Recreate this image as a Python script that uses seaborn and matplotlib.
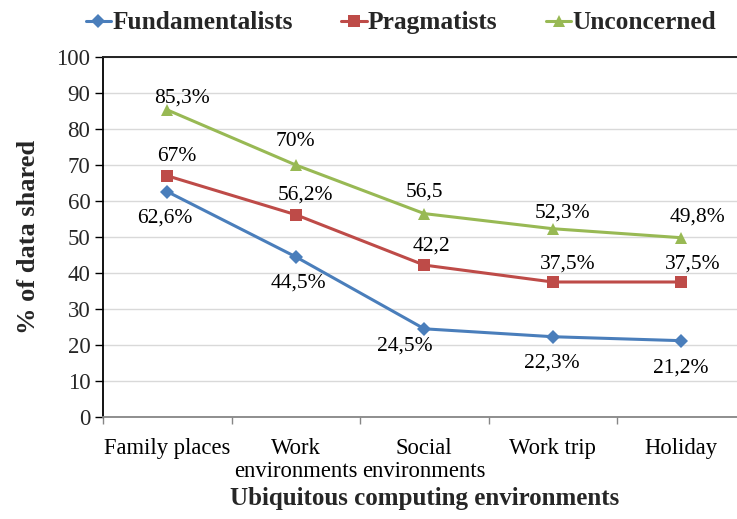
import matplotlib
matplotlib.use("Agg")
import matplotlib.pyplot as plt
import seaborn as sns
import pandas as pd
import numpy as np
from matplotlib.lines import Line2D

categories = ["Family places", "Work\nenvironments", "Social\nenvironments", "Work trip", "Holiday"]
fundamentalists = [62.6, 44.5, 24.5, 22.3, 21.2]
pragmatists = [67.0, 56.2, 42.2, 37.5, 37.5]
unconcerned = [85.3, 70.0, 56.5, 52.3, 49.8]
fund_labels = ["62,6%", "44,5%", "24,5%", "22,3%", "21,2%"]
prag_labels = ["67%", "56,2%", "42,2", "37,5%", "37,5%"]
unc_labels = ["85,3%", "70%", "56,5", "52,3%", "49,8%"]
series_names = ["Fundamentalists", "Pragmatists", "Unconcerned"]
yticks = [0, 10, 20, 30, 40, 50, 60, 70, 80, 90, 100]

sns.set_theme(style="white")
plt.rcParams["font.family"] = ["Liberation Serif", "DejaVu Serif"]

rows = []
for name, vals in zip(series_names, [fundamentalists, pragmatists, unconcerned]):
    for i, v in enumerate(vals):
        rows.append({"x": i, "value": v, "series": name})
df = pd.DataFrame(rows)

colors = {"Fundamentalists": "#4a7ebb", "Pragmatists": "#be4b48", "Unconcerned": "#98b954"}
markers = {"Fundamentalists": "D", "Pragmatists": "s", "Unconcerned": "^"}
msizes = {"Fundamentalists": 7, "Pragmatists": 9, "Unconcerned": 9}

fig = plt.figure(figsize=(7.37, 5.19), dpi=100)
ax = fig.add_axes([103 / 737, 1 - 417 / 519, 642.5 / 737, 360 / 519])

sns.lineplot(data=df, x="x", y="value", hue="series", style="series",
             markers=markers, dashes=False, palette=colors, linewidth=2.2,
             markersize=9, markeredgewidth=0, ax=ax, legend=False)
for line, name in zip(ax.get_lines(), series_names):
    line.set_markersize(msizes[name])

ax.set_xlim(-0.5, 4.5)
ax.set_ylim(0, 100)
ax.set_yticks(yticks)
ax.set_yticklabels([str(t) for t in yticks], fontsize=16.5)
ax.set_xticks(range(len(categories)))
ax.set_xticklabels(categories, fontsize=16.3, linespacing=1.12)
ax.set_xticks(np.arange(-0.5, 5, 1.0), minor=True)
ax.tick_params(axis="x", which="major", length=0, pad=15, colors="black")
ax.tick_params(axis="x", which="minor", length=5, width=1, color="#868686", direction="out", bottom=True)
ax.tick_params(axis="y", which="major", length=6, width=1, color="black", direction="out", left=True, pad=3)
ax.yaxis.grid(True, color="#d9d9d9", linewidth=1)
ax.set_axisbelow(True)
ax.spines["right"].set_visible(False)
ax.spines["top"].set_color("#222222")
ax.spines["top"].set_linewidth(1.4)
ax.spines["left"].set_color("black")
ax.spines["left"].set_linewidth(1.3)
ax.spines["bottom"].set_color("#868686")
ax.spines["bottom"].set_linewidth(1.3)

ax.set_xlabel("Ubiquitous computing environments", fontsize=18, fontweight="bold", labelpad=4)
ax.set_ylabel("% of data shared", fontsize=19, fontweight="bold", labelpad=12)

offsets = {
    "Fundamentalists": [(-2, -26), (3, -26), (-19, -17), (-1, -26), (-1, -27)],
    "Pragmatists": [(10, 19), (10, 20), (7, 19), (15, 18), (11, 18)],
    "Unconcerned": [(15, 12), (0, 24), (0, 22), (10, 16), (16, 21)],
}
labels = {"Fundamentalists": fund_labels, "Pragmatists": prag_labels, "Unconcerned": unc_labels}
values = {"Fundamentalists": fundamentalists, "Pragmatists": pragmatists, "Unconcerned": unconcerned}
for name in series_names:
    for i, (v, lab) in enumerate(zip(values[name], labels[name])):
        dx, dy = offsets[name][i]
        ax.annotate(lab, (i, v), xytext=(dx, dy), textcoords="offset pixels",
                    ha="center", va="center", fontsize=15.5, color="black")

handles = [Line2D([0], [0], color=colors[n], marker=markers[n], markersize=msizes[n],
                  markeredgewidth=0, linewidth=2.2) for n in series_names]
fig.legend(handles, series_names, loc="upper center", bbox_to_anchor=(401 / 737, 1.022),
           ncol=3, frameon=False, prop={"weight": "bold", "size": 18.3},
           handlelength=1.0, handletextpad=0.05, columnspacing=1.9)

fig.savefig("out.png", dpi=100)
